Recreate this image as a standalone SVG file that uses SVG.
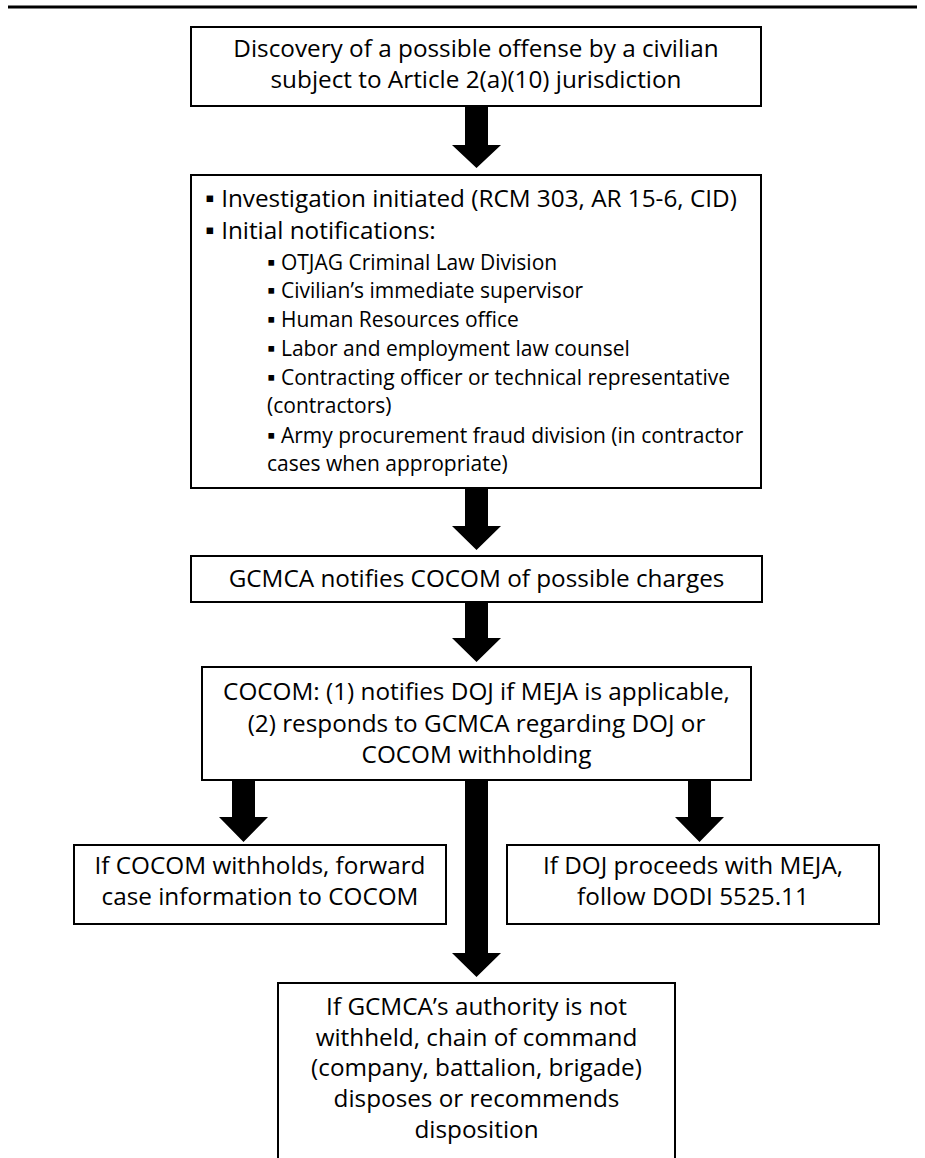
<svg xmlns="http://www.w3.org/2000/svg" width="925" height="1158" viewBox="0 0 925 1158">
<style>
.box{fill:#fff;stroke:#000;stroke-width:2}
.t{font-family:"Open Sans",Lato,"DejaVu Sans",sans-serif;font-size:24.3px;fill:#000}
.s{font-size:21px}
.c{text-anchor:middle}
.arr{fill:#000}
</style>
<rect width="925" height="1158" fill="#fff"/>
<line x1="8" y1="7" x2="917" y2="7" stroke="#000" stroke-width="3"/>
<g id="connectors">
<polygon class="arr" points="465,106 488,106 488,145 501,145 476.5,168 452,145 465,145"/>
<polygon class="arr" points="465,488 488,488 488,526 501,526 476.5,550 452,526 465,526"/>
<polygon class="arr" points="465,602 488,602 488,638 501,638 476.5,662 452,638 465,638"/>
<polygon class="arr" points="232,780 255,780 255,817 268,817 243.5,842 219,817 232,817"/>
<polygon class="arr" points="688,780 711,780 711,817 724,817 699.5,842 675,817 688,817"/>
<polygon class="arr" points="465,780 488,780 488,953 501,953 476.5,977 452,953 465,953"/>
</g>
<g id="n1">
<rect class="box" x="191" y="27" width="570" height="79"/>
<text class="t c" x="476" y="57">Discovery of a possible offense by a civilian</text>
<text class="t c" x="476" y="88">subject to Article 2(a)(10) jurisdiction</text>
</g>
<g id="n2">
<rect class="box" x="191" y="175" width="570" height="313"/>
<text class="t" x="205" y="207">▪ Investigation initiated (RCM 303, AR 15-6, CID)</text>
<text class="t" x="205" y="239">▪ Initial notifications:</text>
<text class="t s" x="267" y="270">▪ OTJAG Criminal Law Division</text>
<text class="t s" x="267" y="298">▪ Civilian’s immediate supervisor</text>
<text class="t s" x="267" y="327">▪ Human Resources office</text>
<text class="t s" x="267" y="356">▪ Labor and employment law counsel</text>
<text class="t s" x="267" y="385">▪ Contracting officer or technical representative</text>
<text class="t s" x="267" y="413">(contractors)</text>
<text class="t s" x="267" y="443">▪ Army procurement fraud division (in contractor</text>
<text class="t s" x="267" y="471">cases when appropriate)</text>
</g>
<g id="n3">
<rect class="box" x="191" y="556" width="571" height="46"/>
<text class="t c" x="476.5" y="587">GCMCA notifies COCOM of possible charges</text>
</g>
<g id="n4">
<rect class="box" x="202" y="667" width="549" height="113"/>
<text class="t c" x="476.5" y="700">COCOM: (1) notifies DOJ if MEJA is applicable,</text>
<text class="t c" x="476.5" y="732">(2) responds to GCMCA regarding DOJ or</text>
<text class="t c" x="476.5" y="763">COCOM withholding</text>
</g>
<g id="n5">
<rect class="box" x="74" y="845" width="372" height="79"/>
<text class="t c" x="260" y="874">If COCOM withholds, forward</text>
<text class="t c" x="260" y="905">case information to COCOM</text>
</g>
<g id="n6">
<rect class="box" x="507" y="845" width="372" height="79"/>
<text class="t c" x="693" y="874">If DOJ proceeds with MEJA,</text>
<text class="t c" x="693" y="905">follow DODI 5525.11</text>
</g>
<g id="n7">
<rect class="box" x="278" y="983" width="397" height="190"/>
<text class="t c" x="476.5" y="1015">If GCMCA’s authority is not</text>
<text class="t c" x="476.5" y="1046">withheld, chain of command</text>
<text class="t c" x="476.5" y="1076">(company, battalion, brigade)</text>
<text class="t c" x="476.5" y="1107">disposes or recommends</text>
<text class="t c" x="476.5" y="1138">disposition</text>
</g>
</svg>
